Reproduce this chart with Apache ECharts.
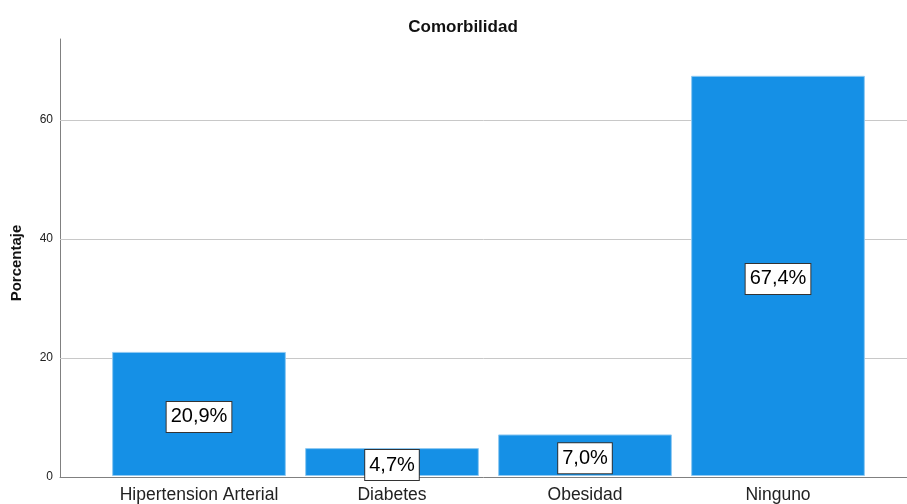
<!DOCTYPE html>
<html>
<head>
<meta charset="utf-8">
<script src="https://cdn.jsdelivr.net/npm/echarts@6/dist/echarts.min.js"></script>
<style>
  html, body { margin: 0; padding: 0; background: #fff; }
  #chart { width: 907px; height: 504px; }
</style>
</head>
<body>
<div id="chart"></div>
<script>
// Comorbidity distribution (percent of patients)
const categories = ['Hipertension Arterial', 'Diabetes', 'Obesidad', 'Ninguno'];
const percentages = [20.9, 4.7, 7.0, 67.4];
const yTicks = [0, 20, 40, 60];
const gridValues = [20, 40, 60];

const AXIS_MAX = 73.6;
const FONT = '"Liberation Sans", Arial, sans-serif';

const chart = echarts.init(document.getElementById('chart'), null, { renderer: 'canvas' });

chart.setOption({
  animation: false,
  backgroundColor: '#ffffff',
  title: {
    text: 'Comorbilidad',
    left: 458,
    textAlign: 'center',
    top: 14,
    textStyle: { fontFamily: FONT, fontSize: 17, fontWeight: 'bold', color: '#111' }
  },
  grid: [
    // full frame: axis lines and horizontal gridlines
    { left: 60, right: 0, top: 39, bottom: 27 },
    // category band area for the bars
    { left: 102.5, width: 772, top: 39, bottom: 27 }
  ],
  xAxis: [
    {
      gridIndex: 0, type: 'value', min: 0, max: 1,
      axisLine: { show: true, lineStyle: { color: '#808080', width: 1 } },
      axisTick: { show: false }, axisLabel: { show: false }, splitLine: { show: false }
    },
    {
      gridIndex: 1, type: 'category', data: categories,
      axisLine: { show: false }, axisTick: { show: false }, splitLine: { show: false },
      axisLabel: { fontFamily: FONT, fontSize: 17.5, color: '#222', margin: 10, interval: 0 }
    }
  ],
  yAxis: [
    {
      gridIndex: 0, type: 'value', min: 0, max: AXIS_MAX, interval: 20,
      name: 'Porcentaje', nameLocation: 'middle', nameGap: 36,
      nameTextStyle: {
        fontFamily: FONT, fontSize: 15, fontWeight: 'bold', color: '#111',
        padding: [0, 10, 0, 0]
      },
      axisLine: { show: true, lineStyle: { color: '#808080', width: 1 } },
      axisTick: { show: false },
      splitLine: { show: false },
      axisLabel: {
        fontFamily: FONT, fontSize: 12, color: '#222', margin: 7, showMaxLabel: false,
        formatter: v => (yTicks.indexOf(v) >= 0 ? String(v) : '')
      }
    },
    {
      gridIndex: 1, type: 'value', min: 0, max: AXIS_MAX, show: false
    }
  ],
  series: [
    {
      type: 'line', xAxisIndex: 0, yAxisIndex: 0, data: [], z: 1, silent: true,
      markLine: {
        z: 1,
        silent: true, symbol: 'none', animation: false,
        label: { show: false },
        lineStyle: { color: '#c8c8c8', width: 1, type: 'solid' },
        data: gridValues.map(v => ({ yAxis: v }))
      }
    },
    {
      type: 'bar', xAxisIndex: 1, yAxisIndex: 1, z: 3,
      data: percentages,
      barCategoryGap: '10%',
      itemStyle: { color: '#1590e6', borderColor: '#8fc9f2', borderWidth: 1 },
      label: {
        show: true, position: 'inside', offset: [0, 3],
        formatter: p => p.value.toFixed(1).replace('.', ',') + '%',
        fontFamily: FONT, fontSize: 20, color: '#000',
        backgroundColor: '#ffffff', borderColor: '#333', borderWidth: 1,
        padding: [4, 4, 4, 4], lineHeight: 22
      }
    }
  ]
});
</script>
</body>
</html>
